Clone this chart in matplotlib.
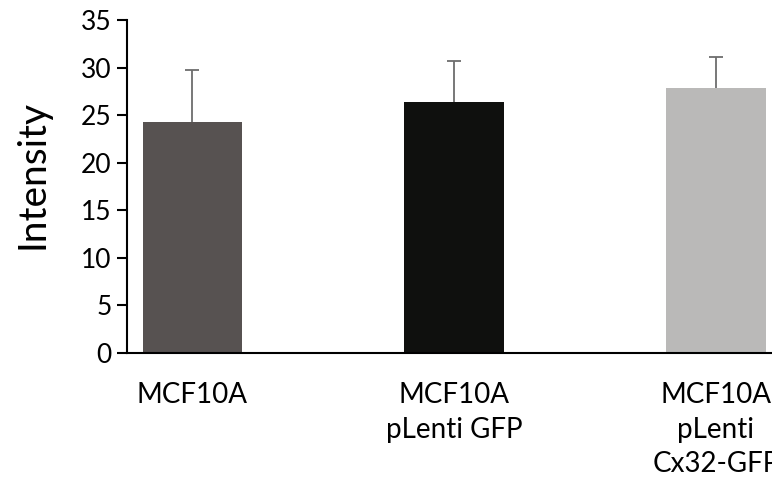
import matplotlib
matplotlib.use("Agg")
from matplotlib import pyplot as plt
import numpy as np

plt.rcParams['font.family'] = ['Lato', 'DejaVu Sans']

# data
groups = ["MCF10A", "MCF10A\npLenti GFP", "MCF10A\npLenti\nCx32-GFP"]
means = [24.3, 26.4, 27.9]
errs = [5.45, 4.3, 3.25]
colors = ["#575251", "#0f100e", "#bab9b8"]

fig = plt.figure(figsize=(7.72, 4.79), dpi=100)
ax = fig.add_axes([127/772, 1-353/479, 645/772, 333/479])

x = np.arange(len(groups))
ax.bar(x, means, width=0.38, color=colors, zorder=2)
eb = ax.errorbar(x, means, yerr=[np.zeros(len(errs)), errs], fmt='none',
                 ecolor='#6d6d6d', elinewidth=1.3, capsize=5, capthick=1.3, zorder=3)
# only the upper cap is drawn in the original
eb[1][0].set_visible(False)

ax.set_xlim(-0.25, 2.214)
ax.set_ylim(0, 35)
ax.set_yticks(np.arange(0, 36, 5))
ax.set_xticks(x)
ax.set_xticklabels(groups, fontsize=20, linespacing=1.4)
ax.tick_params(axis='x', length=0, pad=21)
ax.tick_params(axis='y', labelsize=19, length=7, width=1.5, pad=4)

for s in ['top', 'right']:
    ax.spines[s].set_visible(False)
ax.spines['left'].set_linewidth(1.5)
ax.spines['bottom'].set_linewidth(1.5)

ax.set_ylabel("Intensity", fontsize=28)
ax.yaxis.set_label_coords(-0.119, 0.5375)

plt.savefig("out.png", dpi=100)
